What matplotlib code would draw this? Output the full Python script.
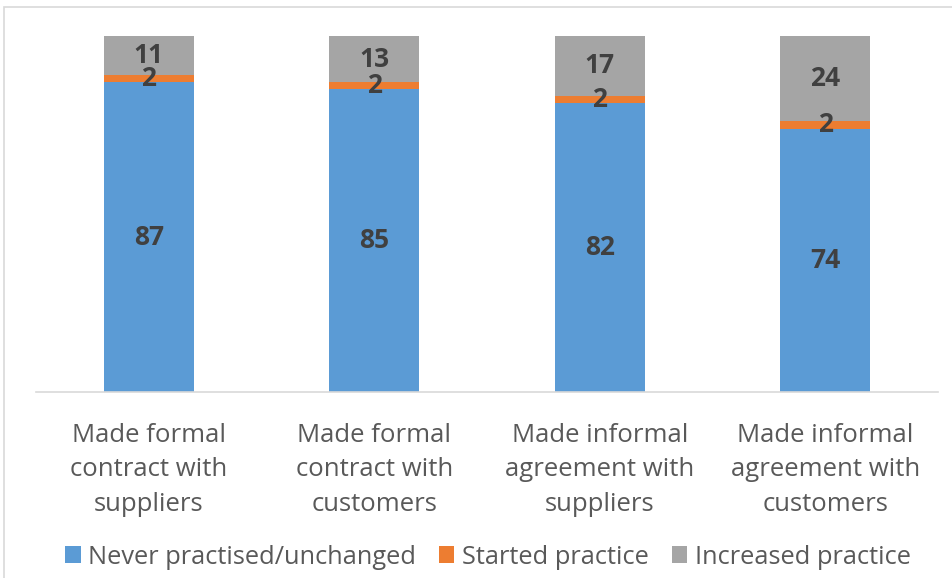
import matplotlib.pyplot as plt
import numpy as np
from matplotlib.patches import Rectangle

# ── Data ─────────────────────────────────────────────────────────────────────

categories = [
    "Made formal\ncontract with\nsuppliers",
    "Made formal\ncontract with\ncustomers",
    "Made informal\nagreement with\nsuppliers",
    "Made informal\nagreement with\ncustomers",
]
never = [87, 85, 82, 74]
started = [2, 2, 2, 2]
increased = [11, 13, 17, 24]

series = [
    ("Never practised/unchanged", never, "#5B9BD5"),
    ("Started practice", started, "#ED7D31"),
    ("Increased practice", increased, "#A5A5A5"),
]

# ── Plot ─────────────────────────────────────────────────────────────────────

plt.rcParams["font.family"] = ["Open Sans", "DejaVu Sans"]

fig = plt.figure(figsize=(9.53, 5.78), dpi=100)
ax = fig.add_axes([36 / 953, 1 - 392 / 578, (938 - 36) / 953, (392 - 36) / 578])

# outer chart border (cut off at right and bottom like the source)
fig.patches.append(Rectangle((4 / 953, -0.05), 1.2, 1 - 7 / 578 + 0.05,
                             transform=fig.transFigure, fill=False,
                             edgecolor="#d9d9d9", linewidth=1.2))

x = np.arange(len(categories))
totals = np.sum([s[1] for s in series], axis=0)
bottom = np.zeros(len(categories))
for name, vals, color in series:
    h = np.array(vals) / totals * 100
    ax.bar(x, h, 0.4, bottom=bottom, color=color, label=name)
    for xi, b, hi, v in zip(x, bottom, h, vals):
        ax.text(xi, b + hi / 2, str(v), ha="center", va="center",
                fontsize=19, fontweight="bold", color="#404040")
    bottom += h

ax.set_xlim(-0.5, len(categories) - 0.5)
ax.set_ylim(0, 100)
ax.set_xticks(x)
ax.set_xticklabels(categories, fontsize=18.5, color="#595959", linespacing=1.5)
ax.tick_params(axis="x", length=0, pad=22)
ax.set_yticks([])
for side in ["top", "right", "left"]:
    ax.spines[side].set_visible(False)
ax.spines["bottom"].set_color("#d9d9d9")
ax.spines["bottom"].set_linewidth(1.2)

fig.legend(loc="center", bbox_to_anchor=(0.512, 1 - 557 / 578), ncol=3, frameon=False,
           fontsize=18.3, labelcolor="#595959", handlelength=0.6, handleheight=0.6,
           handletextpad=0.3, columnspacing=0.9)

fig.savefig("out.png", dpi=100)
